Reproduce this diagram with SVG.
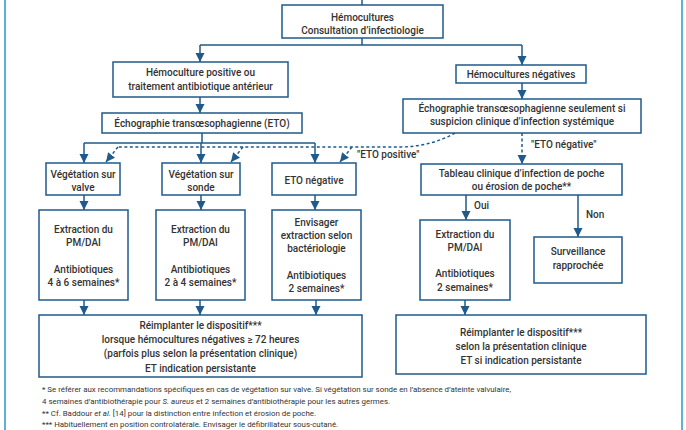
<svg xmlns="http://www.w3.org/2000/svg" width="686" height="430" viewBox="0 0 686 430">
<style>
.box{fill:#fff;stroke:#1f5a8a;stroke-width:1.5}
.t{font-family:Roboto,"Liberation Sans",sans-serif;font-size:10px;font-weight:500;fill:#333;text-anchor:middle}
.l{font-family:Roboto,"Liberation Sans",sans-serif;font-size:10px;font-weight:500;fill:#333}
.fn{font-family:Roboto,"Liberation Sans",sans-serif;font-size:7.9px;fill:#333}
.c{fill:none;stroke:#1f5a8a;stroke-width:1.5}
.d{fill:none;stroke:#1f5a8a;stroke-width:1.5;stroke-dasharray:3 2.5}
.frame{stroke:#5ab4cf;stroke-width:2}
</style>
<defs>
<marker id="ah" markerUnits="userSpaceOnUse" markerWidth="10" markerHeight="10" viewBox="0 0 10 10" refX="9" refY="5" orient="auto">
<path d="M0,0.5 L9,5 L0,9.5 Z" fill="#1f5a8a"/>
</marker>
</defs>
<rect width="686" height="430" fill="#fff"/>
<line class="frame" x1="5" y1="0" x2="5" y2="430"/>
<line class="frame" x1="682" y1="0" x2="682" y2="430"/>

<g id="connectors">
<line class="c" x1="362" y1="0" x2="362" y2="5"/>
<polyline class="c" points="362,38 362,45"/>
<polyline class="c" points="200,45 522,45"/>
<line class="c" x1="200" y1="45" x2="200" y2="62" marker-end="url(#ah)"/>
<line class="c" x1="522" y1="45" x2="522" y2="65" marker-end="url(#ah)"/>
<line class="c" x1="200" y1="97" x2="200" y2="113" marker-end="url(#ah)"/>
<line class="c" x1="522" y1="83" x2="522" y2="99" marker-end="url(#ah)"/>
<line class="c" x1="202" y1="133" x2="202" y2="143"/>
<polyline class="c" points="84,143 315,143"/>
<line class="c" x1="84" y1="143" x2="84" y2="163" marker-end="url(#ah)"/>
<line class="c" x1="201" y1="143" x2="201" y2="163" marker-end="url(#ah)"/>
<line class="c" x1="315" y1="143" x2="315" y2="163" marker-end="url(#ah)"/>
<path class="d" d="M455,133 Q432,146 402,147 L118,147"/>
<line class="d" x1="118" y1="147" x2="106" y2="162" marker-end="url(#ah)"/>
<line class="d" x1="243" y1="147" x2="231" y2="162" marker-end="url(#ah)"/>
<line class="d" x1="352" y1="147" x2="340" y2="162" marker-end="url(#ah)"/>
<line class="d" x1="522" y1="133" x2="522" y2="164" marker-end="url(#ah)"/>
<line class="c" x1="84" y1="195" x2="84" y2="210" marker-end="url(#ah)"/>
<line class="c" x1="201" y1="195" x2="201" y2="210" marker-end="url(#ah)"/>
<line class="c" x1="315" y1="195" x2="315" y2="210" marker-end="url(#ah)"/>
<line class="c" x1="466" y1="195" x2="466" y2="220" marker-end="url(#ah)"/>
<line class="c" x1="578" y1="195" x2="578" y2="237" marker-end="url(#ah)"/>
<line class="c" x1="84" y1="300" x2="84" y2="315" marker-end="url(#ah)"/>
<line class="c" x1="200" y1="300" x2="200" y2="315" marker-end="url(#ah)"/>
<line class="c" x1="316" y1="300" x2="316" y2="315" marker-end="url(#ah)"/>
<line class="c" x1="465" y1="300" x2="465" y2="315" marker-end="url(#ah)"/>
<text class="l" x="357" y="158">"ETO positive"</text>
<text class="l" x="531" y="148">"ETO négative"</text>
<text class="l" x="474" y="209">Oui</text>
<text class="l" x="586" y="218">Non</text>
</g>

<g id="n-top">
<rect class="box" x="282" y="5" width="161" height="33"/>
<text class="t" x="362.5" y="20.5">Hémocultures</text>
<text class="t" x="362.5" y="33.5">Consultation d’infectiologie</text>
</g>
<g id="n-pos">
<rect class="box" x="113" y="62" width="175" height="35"/>
<text class="t" x="200.5" y="75.5">Hémoculture positive ou</text>
<text class="t" x="200.5" y="89.5">traitement antibiotique antérieur</text>
</g>
<g id="n-neg">
<rect class="box" x="456" y="65" width="130" height="18"/>
<text class="t" x="521" y="77.5">Hémocultures négatives</text>
</g>
<g id="n-eto">
<rect class="box" x="102" y="113" width="200" height="20"/>
<text class="t" x="202" y="126.5">Échographie transœsophagienne (ETO)</text>
</g>
<g id="n-eto2">
<rect class="box" x="403" y="99" width="238" height="34"/>
<text class="t" x="522" y="112">Échographie transœsophagienne seulement si</text>
<text class="t" x="522" y="125">suspicion clinique d’infection systémique</text>
</g>
<g id="n-valve">
<rect class="box" x="46" y="163" width="74" height="32"/>
<text class="t" x="83" y="177.5">Végétation sur</text>
<text class="t" x="83" y="190.5">valve</text>
</g>
<g id="n-sonde">
<rect class="box" x="162" y="163" width="78" height="32"/>
<text class="t" x="201" y="177.5">Végétation sur</text>
<text class="t" x="201" y="190.5">sonde</text>
</g>
<g id="n-etoneg">
<rect class="box" x="272" y="163" width="84" height="32"/>
<text class="t" x="314" y="183.5">ETO négative</text>
</g>
<g id="n-tableau">
<rect class="box" x="421" y="164" width="201" height="31"/>
<text class="t" x="521.5" y="177">Tableau clinique d’infection de poche</text>
<text class="t" x="521.5" y="190">ou érosion de poche**</text>
</g>
<g id="n-a">
<rect class="box" x="39" y="210" width="89" height="90"/>
<text class="t" x="83.5" y="233">Extraction du</text>
<text class="t" x="83.5" y="246">PM/DAI</text>
<text class="t" x="83.5" y="272.5">Antibiotiques</text>
<text class="t" x="83.5" y="286">4 à 6 semaines*</text>
</g>
<g id="n-b">
<rect class="box" x="156" y="210" width="89" height="90"/>
<text class="t" x="200.5" y="233">Extraction du</text>
<text class="t" x="200.5" y="246">PM/DAI</text>
<text class="t" x="200.5" y="272.5">Antibiotiques</text>
<text class="t" x="200.5" y="286">2 à 4 semaines*</text>
</g>
<g id="n-c">
<rect class="box" x="272" y="210" width="89" height="90"/>
<text class="t" x="316.5" y="226">Envisager</text>
<text class="t" x="316.5" y="239">extraction selon</text>
<text class="t" x="316.5" y="252">bactériologie</text>
<text class="t" x="316.5" y="278.5">Antibiotiques</text>
<text class="t" x="316.5" y="292">2 semaines*</text>
</g>
<g id="n-d">
<rect class="box" x="420" y="220" width="90" height="80"/>
<text class="t" x="465" y="238">Extraction du</text>
<text class="t" x="465" y="251">PM/DAI</text>
<text class="t" x="465" y="277">Antibiotiques</text>
<text class="t" x="465" y="291">2 semaines*</text>
</g>
<g id="n-e">
<rect class="box" x="534" y="237" width="88" height="46"/>
<text class="t" x="578" y="255">Surveillance</text>
<text class="t" x="578" y="269">rapprochée</text>
</g>
<g id="n-reimp1">
<rect class="box" x="39" y="315" width="323" height="62"/>
<text class="t" x="200.5" y="329">Réimplanter le dispositif***</text>
<text class="t" x="200.5" y="343">lorsque hémocultures négatives ≥ 72 heures</text>
<text class="t" x="200.5" y="357">(parfois plus selon la présentation clinique)</text>
<text class="t" x="200.5" y="371.5">ET indication persistante</text>
</g>
<g id="n-reimp2">
<rect class="box" x="396" y="315" width="250" height="59"/>
<text class="t" x="521" y="336">Réimplanter le dispositif***</text>
<text class="t" x="521" y="350">selon la présentation clinique</text>
<text class="t" x="521" y="364">ET si indication persistante</text>
</g>

<g id="footnotes">
<text class="fn" x="42" y="392">* Se référer aux recommandations spécifiques en cas de végétation sur valve. Si végétation sur sonde en l’absence d’ateinte valvulaire,</text>
<text class="fn" x="42" y="404">4 semaines d’antibiothérapie pour <tspan font-style="italic">S. aureus</tspan> et 2 semaines d’antibiothérapie pour les autres germes.</text>
<text class="fn" x="42" y="416">** Cf. Baddour <tspan font-style="italic">et al.</tspan> [14] pour la distinction entre infection et érosion de poche.</text>
<text class="fn" x="42" y="427">*** Habituellement en position controlatérale. Envisager le défibrillateur sous-cutané.</text>
</g>
</svg>
